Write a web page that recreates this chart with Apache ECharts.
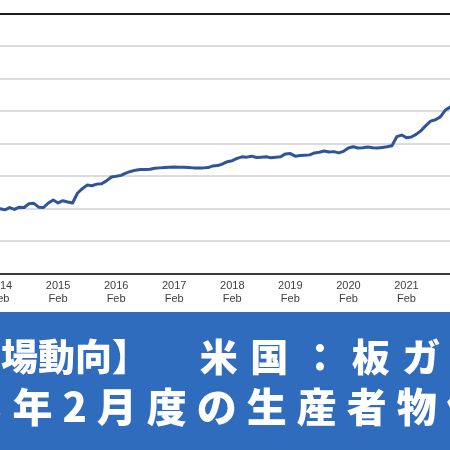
<!DOCTYPE html>
<html><head><meta charset="utf-8">
<script src="https://cdn.jsdelivr.net/npm/echarts@6/dist/echarts.min.js"></script>
<style>html,body{margin:0;padding:0;background:#fff}#c{width:450px;height:450px}</style>
</head><body><div id="c"></div>
<script>
// Monthly index values, first value = 2014 Jan
const firstYear = 2014;
const firstMonthOffset = -1; // 2014 Jan is one month before the first tick (2014 Feb)
const values = [
  120.1, 119.9, 119.6, 120.3, 119.7, 120.4, 120.3, 121.5, 121.6, 120.4, 120.3, 121.7,
  122.6, 121.7, 122.4, 122.0, 121.7, 124.7, 126.1, 127.2, 127.0, 127.5, 127.6, 128.5,
  129.7, 129.9, 130.2, 130.9, 131.4, 131.8, 132.0, 132.0, 132.1, 132.4, 132.5, 132.6,
  132.7, 132.8, 132.7, 132.7, 132.6, 132.5, 132.5, 132.5, 132.6, 133.1, 133.2, 133.7,
  134.4, 134.7, 135.4, 135.9, 135.8, 136.1, 135.7, 135.8, 135.9, 135.6, 135.8, 135.9,
  136.8, 136.9, 136.1, 136.3, 136.4, 136.5, 137.1, 137.3, 137.7, 137.4, 137.5, 137.1,
  137.6, 138.6, 139.0, 138.6, 138.7, 138.9, 138.7, 138.6, 138.8, 139.0, 139.3, 142.1,
  142.6, 141.8, 142.0, 142.8, 143.9, 145.5, 146.9, 147.3, 148.2, 150.2, 151.2, 151.8
];
const tickYears = [2014, 2015, 2016, 2017, 2018, 2019, 2020, 2021];
const tickMonth = 'Feb';
const bannerLine1a = '【市場動向】';
const bannerLine1b = '　米国：板ガラス';
const bannerLine2 = '2023年2月度の生産者物価指数';

const data = values.map((v, i) => [i + firstMonthOffset, v]);
const tickPos = tickYears.map(y => (y - firstYear) * 12);
const spaced = (s, sp) => s.split('').join(sp);

const chart = echarts.init(document.getElementById('c'), null, {renderer: 'canvas'});
chart.setOption({
  animation: false,
  backgroundColor: '#ffffff',
  grid: {left: 0, right: 0, top: 13.5, bottom: 176.5, containLabel: false, outerBoundsMode: 'none'},
  xAxis: [{
    type: 'value', min: 0, max: 93,
    axisLine: {show: true, lineStyle: {color: '#3a3a3a', width: 2}},
    axisTick: {show: false},
    splitLine: {show: false},
    axisLabel: {
      show: true, customValues: tickPos, margin: 6, hideOverlap: false,
      color: '#404040', fontFamily: 'Liberation Sans, Arial', fontSize: 11, lineHeight: 13,
      formatter: v => tickYears[tickPos.indexOf(v)] + '\n' + tickMonth
    }
  }, {
    type: 'value', min: 0, max: 93, position: 'top',
    axisLine: {show: true, lineStyle: {color: '#1a1a1a', width: 2}},
    axisTick: {show: false}, axisLabel: {show: false}, splitLine: {show: false}
  }],
  yAxis: {
    type: 'value', min: 100, max: 180, interval: 10,
    axisLine: {show: false}, axisTick: {show: false}, axisLabel: {show: false},
    splitLine: {show: true, lineStyle: {color: '#dcdcdc', width: 2}}
  },
  series: [{
    type: 'line', data: data, xAxisIndex: 0, showSymbol: false, clip: true,
    lineStyle: {color: '#2e5597', width: 3, cap: 'round', join: 'round'}
  }],
  graphic: [
    {type: 'rect', left: 0, top: 312, shape: {x: 0, y: 0, width: 450, height: 138},
     style: {fill: '#306cbe'}, z: 10},
    {type: 'text', x: -73, y: 357, z: 11,
     style: {
       text: '{a|' + bannerLine1a + '}{b|' + spaced(bannerLine1b, '\u2004') + '}',
       verticalAlign: 'middle', align: 'left',
       rich: {
         a: {fill: '#ffffff', fontSize: 37, fontWeight: 900, fontFamily: 'Noto Sans CJK JP'},
         b: {fill: '#ffffff', fontSize: 38, fontWeight: 900, fontFamily: 'Noto Sans CJK JP'}
       }
     }},
    {type: 'text', x: -125, y: 407, z: 11,
     style: {
       text: spaced(bannerLine2, '\u2005'), fill: '#ffffff', fontSize: 40, fontWeight: 900,
       fontFamily: 'Noto Sans CJK JP', verticalAlign: 'middle', align: 'left'
     }}
  ]
});
</script>
</body></html>
